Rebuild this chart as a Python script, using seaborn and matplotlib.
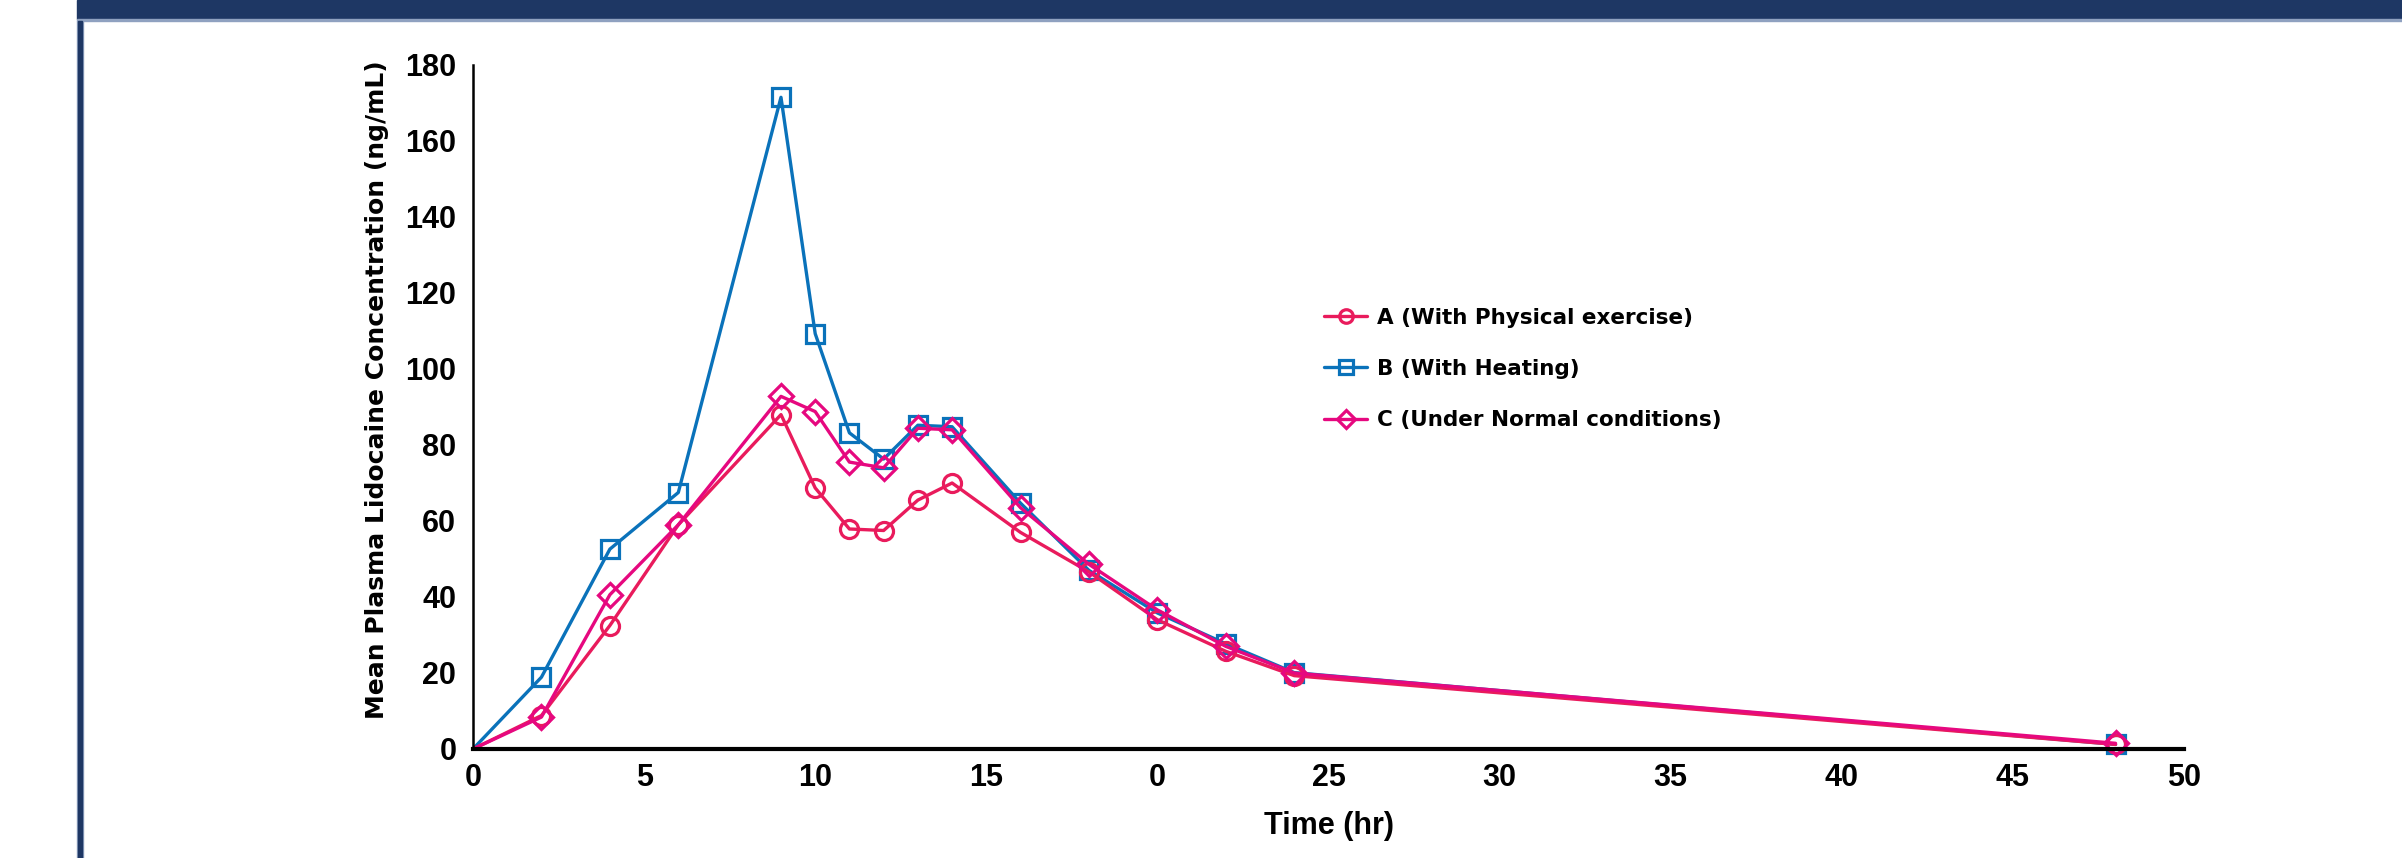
import pandas as pd
import matplotlib
matplotlib.use("Agg")
import matplotlib.pyplot as plt
from matplotlib.patches import Rectangle
import seaborn as sns

# Datos
time_hr = [0, 2, 4, 6, 9, 10, 11, 12, 13, 14, 16, 18, 20, 22, 24, 48]
conc_a = [0, 8.8, 32.5, 59.0, 88.0, 68.7, 57.9, 57.5, 65.5, 70.0, 57.0, 46.6, 34.0, 25.7, 19.3, 1.2]
conc_b = [0, 18.9, 52.6, 67.5, 171.5, 109.3, 83.2, 76.3, 85.2, 84.8, 64.7, 47.0, 35.8, 27.7, 20.1, 1.2]
conc_c = [0, 8.4, 40.6, 59.0, 92.8, 88.8, 75.5, 74.0, 84.4, 84.0, 63.5, 48.6, 36.6, 27.0, 20.0, 1.5]

labels = ["A (With Physical exercise)", "B (With Heating)", "C (Under Normal conditions)"]
x_ticks = [0, 5, 10, 15, 20, 25, 30, 35, 40, 45, 50]
x_tick_labels = ["0", "5", "10", "15", "0", "25", "30", "35", "40", "45", "50"]
y_ticks = [0, 20, 40, 60, 80, 100, 120, 140, 160, 180]

sns.set_style("white")
plt.rcParams["font.family"] = ["DejaVu Sans"]
plt.rcParams["text.color"] = "black"
plt.rcParams["axes.labelcolor"] = "black"

narrow = ["Liberation Sans", "DejaVu Sans"]

fig = plt.figure(figsize=(24.02, 8.58), dpi=100)
ax = fig.add_axes([473 / 2402, 1 - 749 / 858, (2184 - 473) / 2402, (749 - 65) / 858])

series = {
    "A": (conc_a, "o", "#E91B5C", 13),
    "B": (conc_b, "s", "#0A72BA", 13),
    "C": (conc_c, "D", "#E6087F", 12.5),
}
# dibujar B primero, luego A y C encima
for key, lab in zip(["B", "A", "C"], [labels[1], labels[0], labels[2]]):
    vals, mk, col, ms = series[key]
    sns.lineplot(x=time_hr, y=vals, ax=ax, color=col, linewidth=2.4,
                 marker=mk, markersize=ms, markerfacecolor="none",
                 markeredgecolor=col, markeredgewidth=2.3,
                 markevery=slice(1, None), label=lab, clip_on=False)

ax.set_xlim(0, 50)
ax.set_ylim(0, 180)
ax.set_xticks(x_ticks, x_tick_labels)
ax.set_yticks(y_ticks)

for s in ["top", "right"]:
    ax.spines[s].set_visible(False)
ax.spines["bottom"].set_linewidth(3.0)
ax.spines["left"].set_linewidth(1.8)
ax.spines["bottom"].set_color("black")
ax.spines["left"].set_color("black")

ax.tick_params(axis="both", direction="inout", length=14, width=1.5, colors="black")
ax.tick_params(axis="y", pad=5)
ax.tick_params(axis="x", pad=3)
for t in ax.get_xticklabels() + ax.get_yticklabels():
    t.set_family(narrow)
    t.set_fontsize(22)
    t.set_fontweight("bold")

ax.set_ylabel("Mean Plasma Lidocaine Concentration (ng/mL)", fontsize=18,
              fontweight="bold")
ax.yaxis.set_label_coords(-0.049, 0.525)
ax.set_xlabel("Time (hr)", fontsize=22, fontweight="bold", family=narrow)
ax.xaxis.set_label_coords(0.5003, -0.09)

# leyenda en orden A, B, C
handles, labs = ax.get_legend_handles_labels()
order = [labs.index(l) for l in labels]
leg = ax.legend([handles[i] for i in order], [labs[i] for i in order],
                loc="center left", bbox_to_anchor=(1324 / 2402, 1 - 369 / 858),
                bbox_transform=fig.transFigure, frameon=False, borderpad=0,
                borderaxespad=0, handlelength=2.0, handletextpad=0.45,
                labelspacing=1.45, markerscale=0.75,
                prop={"size": 15.5, "weight": "bold"})
for t in leg.get_texts():
    t.set_color("black")

# barra superior y linea izquierda
fig.patches.append(Rectangle((77 / 2402, 1 - 19 / 858), 1, 19 / 858,
                             transform=fig.transFigure, color="#1E3764", zorder=0))
fig.patches.append(Rectangle((77 / 2402, 1 - 20.5 / 858), 1, 1.5 / 858,
                             transform=fig.transFigure, color="#8FA1C0", zorder=0))
fig.patches.append(Rectangle((77 / 2402, 0), 6 / 2402, 1 - 20.5 / 858,
                             transform=fig.transFigure, color="#8FA1C0", zorder=0))
fig.patches.append(Rectangle((78 / 2402, 0), 4 / 2402, 1 - 20.5 / 858,
                             transform=fig.transFigure, color="#1E3764", zorder=0))

plt.savefig("out.png", dpi=100)
